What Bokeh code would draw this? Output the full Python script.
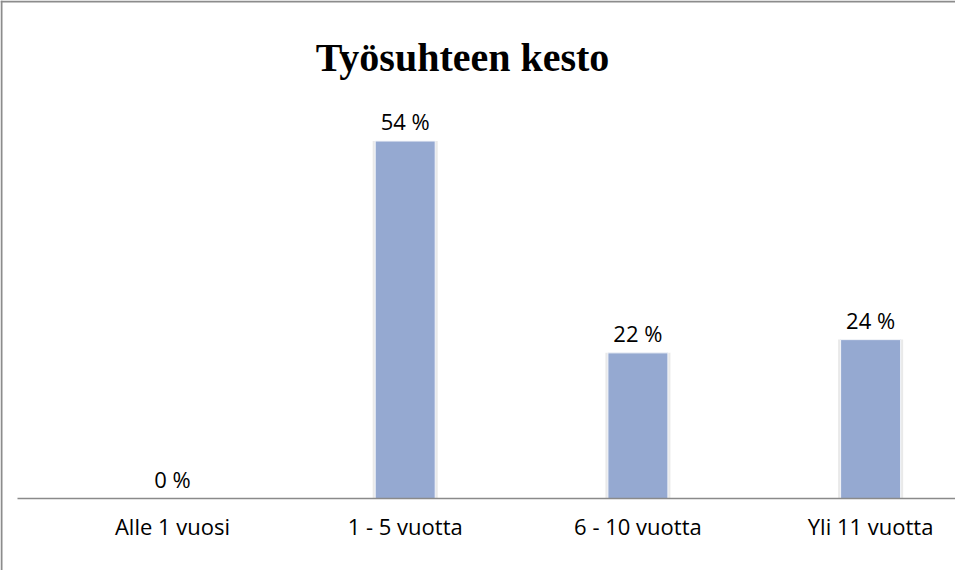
from bokeh.plotting import figure
from bokeh.models import Range1d, ColumnDataSource, Span, Label
from bokeh.core.properties import value
from bokeh.embed import file_html
from bokeh.resources import INLINE

# ---- data ----
categories = ["Alle 1 vuosi", "1 - 5 vuotta", "6 - 10 vuotta", "Yli 11 vuotta"]
percents = [0, 54, 22, 24]
value_labels = ["0 %", "54 %", "22 %", "24 %"]
title_text = "Työsuhteen kesto"

# ---- layout (pixels inside the figure) ----
W, H = 955, 570
first_center_px = 172.0
step_px = 232.7
baseline_px = 498.0
unit_px = 6.62
axis_left_px = 17.0

x_start = -first_center_px / step_px
x_end = (W - first_center_px) / step_px
y_end = baseline_px / unit_px
y_start = -(H - baseline_px) / unit_px

xs = list(range(len(categories)))
src = ColumnDataSource(dict(x=xs, top=percents, cat=categories, lab=value_labels))

p = figure(width=W, height=H, x_range=Range1d(x_start, x_end), y_range=Range1d(y_start, y_end),
           output_backend="svg", toolbar_location=None, min_border=0,
           x_axis_type=None, y_axis_type=None)
p.grid.visible = False
p.outline_line_color = None
p.background_fill_color = "white"
p.border_fill_color = "white"

bar_w = 60.0 / step_px
# soft glow behind bars
p.vbar(x="x", top="top", bottom=0, width=bar_w + 5.0 / step_px, source=src,
       fill_color="#bfbfbf", fill_alpha=0.35, line_color=None)
p.vbar(x="x", top="top", bottom=0, width=bar_w, source=src,
       fill_color="#95a9d1", line_color="#f4f6fa", line_width=1)

# baseline (category axis line)
p.segment(x0=[x_start + axis_left_px / step_px], x1=[x_end], y0=[0], y1=[0],
          line_color="#8a8a8a", line_width=1.5)

# chart border (left and top)
p.add_layout(Span(location=x_start + 1.0 / step_px, dimension="height",
                  line_color="#8c8c8c", line_width=2))
p.add_layout(Span(location=y_end - 1.0 / unit_px, dimension="width",
                  line_color="#8c8c8c", line_width=2))

# value labels
p.text(x="x", y="top", text="lab", source=src, text_align="center", text_baseline="alphabetic",
       y_offset=-20, text_font=value("Open Sans"), text_font_size="22px", text_color="#000000")

# category labels
p.text(x="x", y=0, text="cat", source=src, text_align="center", text_baseline="alphabetic",
       y_offset=27, text_font=value("Open Sans"), text_font_size="22px", text_color="#000000")

# title
p.add_layout(Label(x=462, y=H - 57, x_units="screen", y_units="screen", text=title_text,
                   text_font="Liberation Serif", text_font_style="bold", text_font_size="40px",
                   text_align="center", text_baseline="alphabetic", text_color="#000000"))

open("out.html", "w").write(file_html(p, INLINE))
